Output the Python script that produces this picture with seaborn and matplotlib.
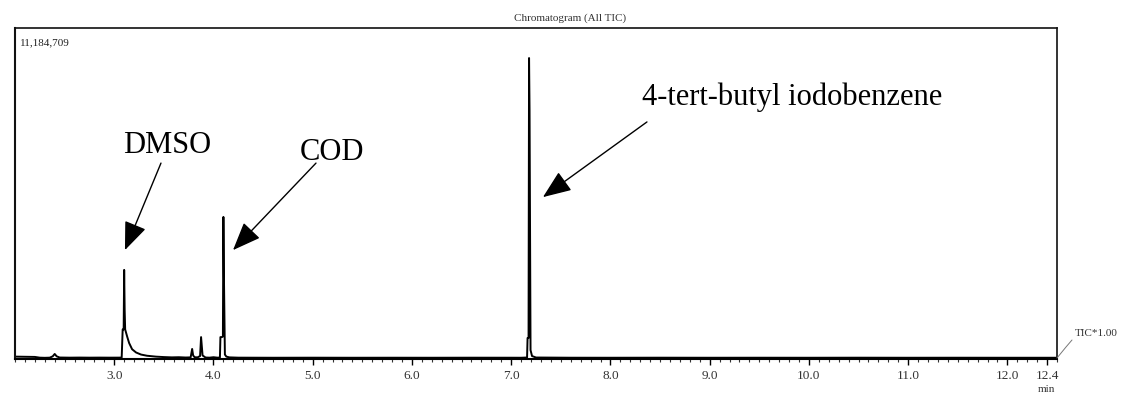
import matplotlib
matplotlib.use("Agg")
import matplotlib.pyplot as plt
import seaborn as sns
import pandas as pd
from matplotlib.ticker import FixedLocator, MultipleLocator

# ---- data ----
ret_time = [
    2.00, 2.10, 2.20, 2.25, 2.30, 2.35, 2.38, 2.40, 2.42, 2.45, 2.55, 2.65, 2.75, 2.85, 2.95, 3.05, 3.075,
    3.085, 3.095, 3.10, 3.105, 3.11, 3.13, 3.15, 3.18, 3.22, 3.27, 3.33, 3.42, 3.50, 3.58, 3.65, 3.72,
    3.77, 3.785, 3.795, 3.81, 3.84, 3.865, 3.875, 3.89, 3.92, 3.96, 4.00, 4.04, 4.065,
    4.07, 4.085, 4.095, 4.10, 4.105, 4.115, 4.13, 4.16, 4.25, 4.60, 5.00, 5.40, 5.80, 6.20, 6.60,
    7.00, 7.10, 7.16, 7.165, 7.175, 7.18, 7.185, 7.195, 7.21, 7.25, 7.60, 8.00, 8.50, 9.00, 9.50,
    10.00, 10.50, 11.00, 11.50, 12.00, 12.50,
]
tic_intensity = [
    80000, 75000, 70000, 45000, 40000, 45000, 90000, 170000, 90000, 50000, 45000, 48000, 45000, 47000, 45000, 46000, 50000,
    1000000, 1000000, 3010000, 1660000, 1000000, 760000, 540000, 330000, 220000, 150000, 110000, 80000, 65000, 55000, 60000, 50000,
    55000, 340000, 120000, 60000, 55000, 100000, 740000, 120000, 50000, 45000, 60000, 45000, 50000,
    740000, 740000, 760000, 4800000, 2900000, 150000, 80000, 55000, 45000, 42000, 44000, 42000, 43000, 42000, 44000,
    43000, 42000, 50000, 710000, 710000, 10170000, 8400000, 300000, 100000, 50000, 43000, 42000, 44000, 42000, 43000,
    42000, 44000, 42000, 43000, 42000, 42000,
]
tick_positions = [3.0, 4.0, 5.0, 6.0, 7.0, 8.0, 9.0, 10.0, 11.0, 12.0, 12.4]
tick_labels = ["3.0", "4.0", "5.0", "6.0", "7.0", "8.0", "9.0", "10.0", "11.0", "12.0", "12.4"]
y_max = 11184709
peak_names = ["DMSO", "COD", "4-tert-butyl iodobenzene"]

df = pd.DataFrame({"time": ret_time, "tic": tic_intensity})

sns.set_style("ticks")
plt.rcParams["font.family"] = ["Liberation Serif", "DejaVu Serif"]
plt.rcParams["text.color"] = "black"

fig = plt.figure(figsize=(11.3, 3.98), dpi=100)
ax = fig.add_axes([15 / 1130, 1 - 359 / 398, 1042 / 1130, 331 / 398])

sns.lineplot(data=df, x="time", y="tic", ax=ax, color="black", lw=1.4,
             estimator=None, sort=False)

ax.set_xlim(2.0, 12.5)
ax.set_ylim(0, y_max)
ax.set_xlabel("")
ax.set_ylabel("")
ax.set_yticks([])

ax.xaxis.set_major_locator(FixedLocator(tick_positions))
ax.set_xticklabels(tick_labels)
ax.xaxis.set_minor_locator(MultipleLocator(0.1))
ax.tick_params(axis="x", which="major", length=4, width=1.0, pad=4,
               labelsize=9.5, labelcolor="#333333", color="black")
ax.tick_params(axis="x", which="minor", length=2, width=0.8, color="#333333")

for side in ["top", "left", "right"]:
    ax.spines[side].set_visible(True)
    ax.spines[side].set_linewidth(1.2)
    ax.spines[side].set_color("#111111")
ax.spines["left"].set_linewidth(1.5)
ax.spines["bottom"].set_linewidth(1.5)
ax.spines["bottom"].set_color("black")

# small instrument labels
fig.text(570 / 1130, 1 - 18 / 398, "Chromatogram (All TIC)", ha="center", va="center",
         fontsize=8, color="#333333")
ax.text(0.005, 0.955, "11,184,709", transform=ax.transAxes, ha="left", va="center",
        fontsize=8, color="#222222")
fig.text(1075 / 1130, 1 - 334 / 398, "TIC*1.00", ha="left", va="center",
         fontsize=8, color="#333333")
fig.text(1046 / 1130, 1 - 389 / 398, "min", ha="center", va="center",
         fontsize=8, color="#333333")
fig.add_artist(plt.Line2D([1057 / 1130, 1066 / 1130, 1072 / 1130],
                          [1 - 358 / 398, 1 - 347 / 398, 1 - 340 / 398],
                          transform=fig.transFigure, color="#777777", lw=0.7))

# peak annotations
arrow_kw = dict(arrowstyle="-|>,head_length=0.8,head_width=0.32", mutation_scale=22,
                color="black", lw=1.0, shrinkA=0, shrinkB=0)
ax.text(3.537, 6.96e6, peak_names[0], ha="center", va="baseline", fontsize=22, color="black")
ax.annotate("", xy=(3.108, 3.68e6), xytext=(3.471, 6.62e6), arrowprops=arrow_kw)
ax.text(5.194, 6.72e6, peak_names[1], ha="center", va="baseline", fontsize=22, color="black")
ax.annotate("", xy=(4.197, 3.68e6), xytext=(5.033, 6.62e6), arrowprops=arrow_kw)
ax.text(8.318, 8.58e6, peak_names[2], ha="left", va="baseline", fontsize=22, color="black")
ax.annotate("", xy=(7.320, 5.47e6), xytext=(8.368, 8.01e6), arrowprops=arrow_kw)

fig.savefig("out.png", dpi=100)
